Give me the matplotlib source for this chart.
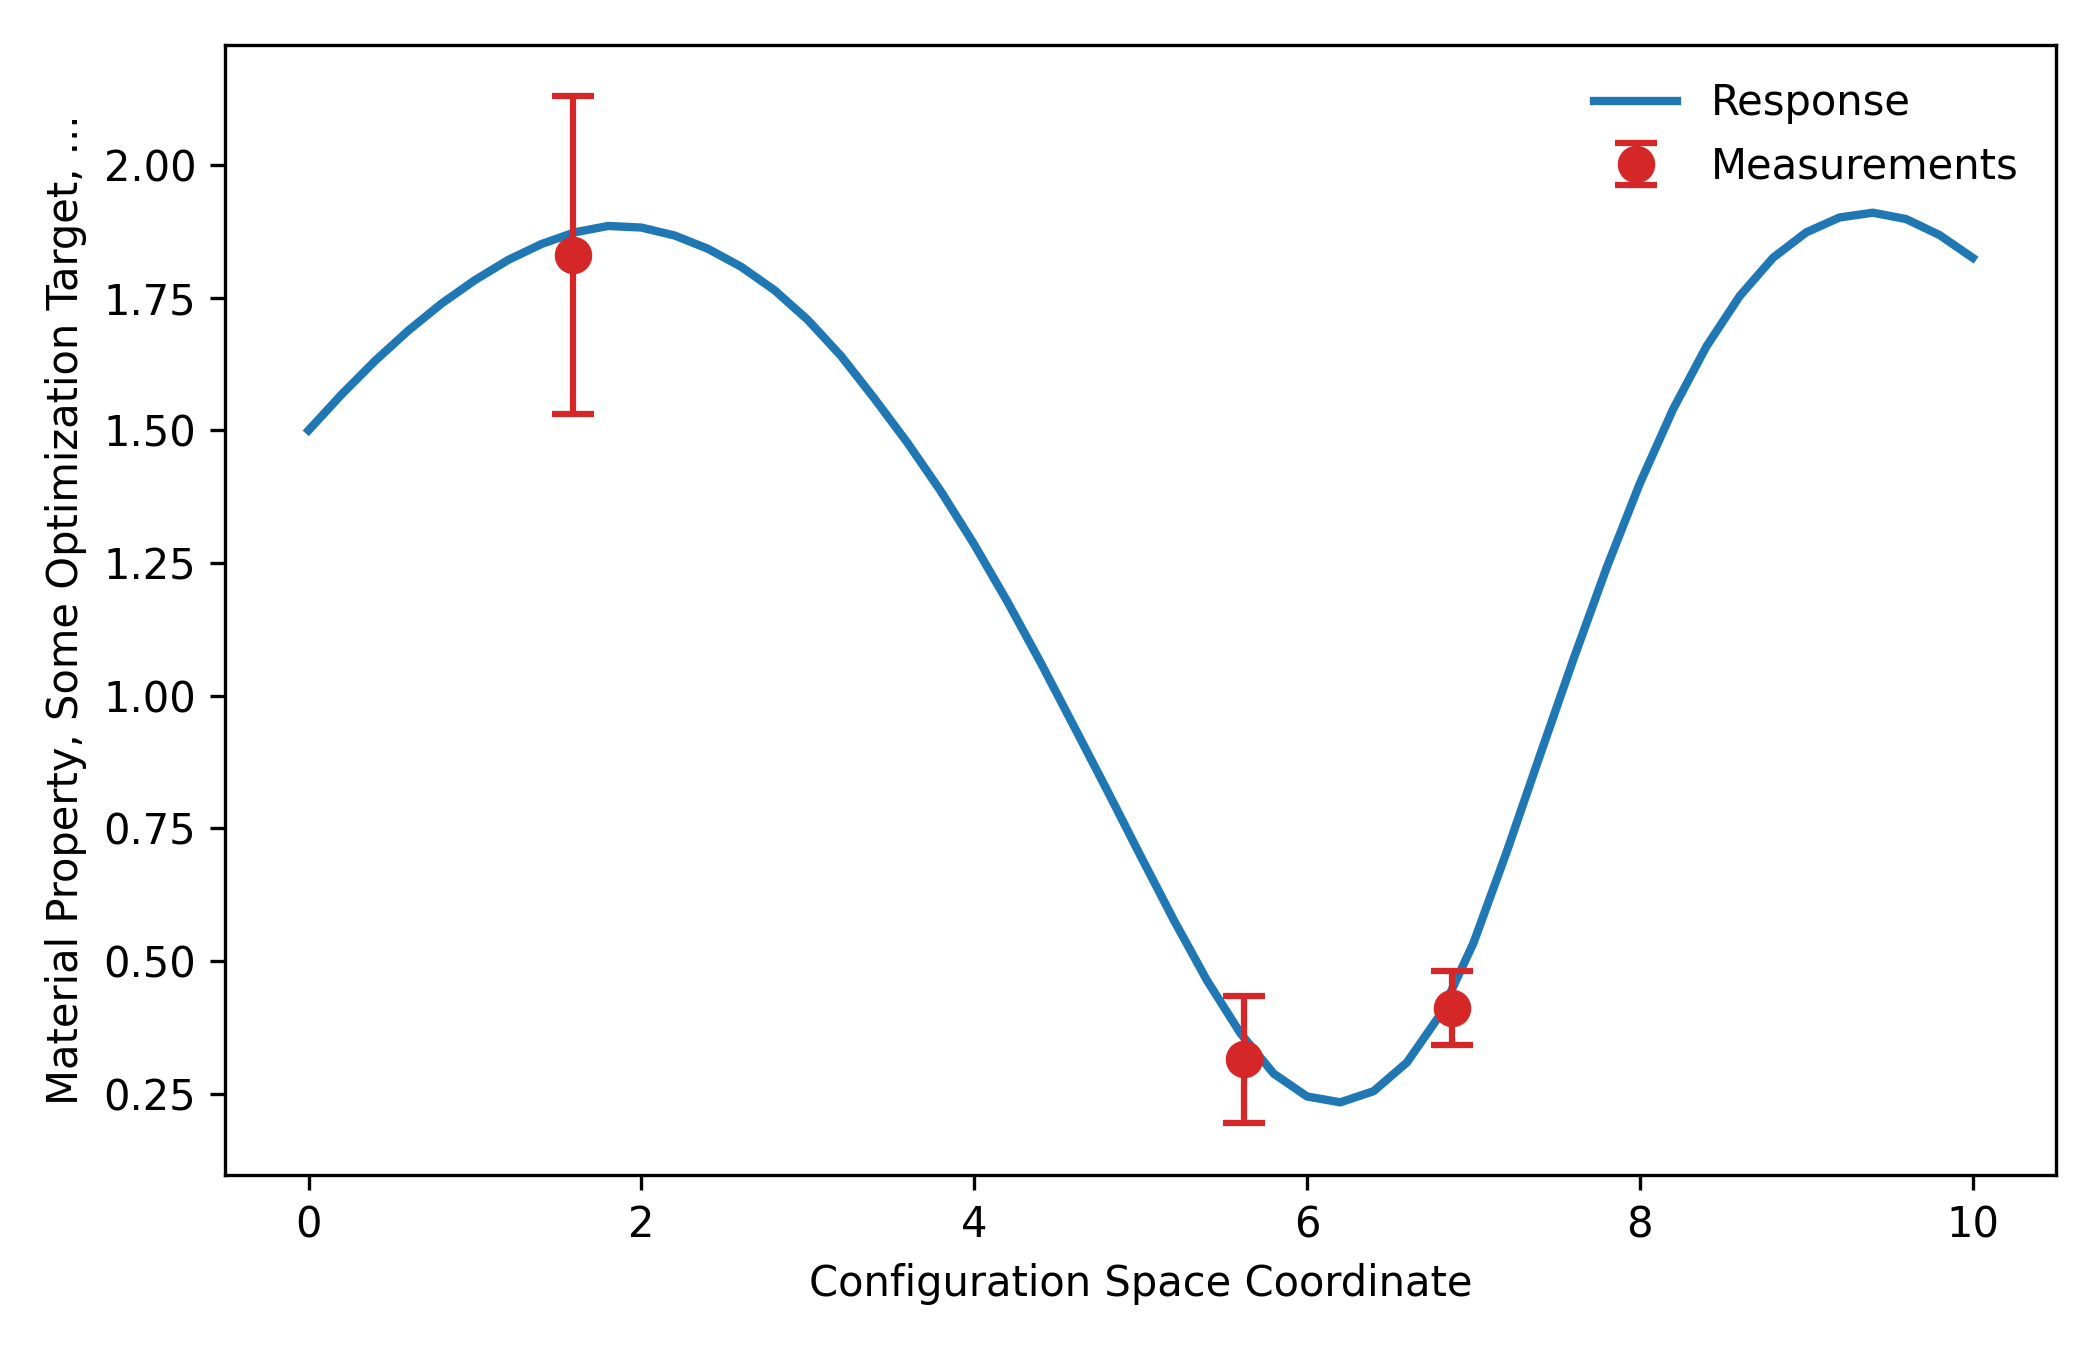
import matplotlib
matplotlib.use("Agg")
import matplotlib.pyplot as plt

# Response curve (values every 0.2 units)
curve_x = [0.0, 0.2, 0.4, 0.6, 0.8, 1.0, 1.2, 1.4, 1.6, 1.8,
           2.0, 2.2, 2.4, 2.6, 2.8, 3.0, 3.2, 3.4, 3.6, 3.8,
           4.0, 4.2, 4.4, 4.6, 4.8, 5.0, 5.2, 5.4, 5.6, 5.8,
           6.0, 6.2, 6.4, 6.6, 6.8, 7.0, 7.2, 7.4, 7.6, 7.8,
           8.0, 8.2, 8.4, 8.6, 8.8, 9.0, 9.2, 9.4, 9.6, 9.8, 10.0]
curve_y = [1.500, 1.568, 1.631, 1.688, 1.739, 1.783, 1.821, 1.851, 1.873, 1.885,
           1.882, 1.867, 1.842, 1.808, 1.764, 1.708, 1.640, 1.560, 1.476, 1.385,
           1.285, 1.177, 1.062, 0.942, 0.821, 0.698, 0.577, 0.463, 0.364, 0.288,
           0.245, 0.234, 0.255, 0.309, 0.399, 0.534, 0.706, 0.888, 1.068, 1.241,
           1.400, 1.540, 1.658, 1.753, 1.825, 1.873, 1.901, 1.910, 1.898, 1.868, 1.825]

# Measurements
meas_x = [1.59, 5.62, 6.87]
meas_y = [1.83, 0.315, 0.412]
meas_err = [0.30, 0.12, 0.07]

x_label = "Configuration Space Coordinate"
y_label = "Material Property, Some Optimization Target, ..."

fig = plt.figure(figsize=(7, 4.5), dpi=300)
ax = fig.add_axes([0.1073, 0.1296, 0.979 - 0.1073, 0.9667 - 0.1296])

ax.plot(curve_x, curve_y, color="#1f77b4", linewidth=2, label="Response",
        solid_joinstyle="round")
ax.errorbar(meas_x, meas_y, yerr=meas_err, fmt="o", color="#d62728",
            markersize=8, capsize=5, elinewidth=1.5, capthick=1.5,
            label="Measurements")

ax.set_xlim(-0.5, 10.5)
ax.set_ylim(0.097, 2.226)
ax.set_xticks([0, 2, 4, 6, 8, 10])
ax.set_yticks([0.25, 0.50, 0.75, 1.00, 1.25, 1.50, 1.75, 2.00])
ax.set_xlabel(x_label)
ax.set_ylabel(y_label)
ax.legend(loc="upper right", frameon=False)

fig.savefig("out.png", dpi=300)
